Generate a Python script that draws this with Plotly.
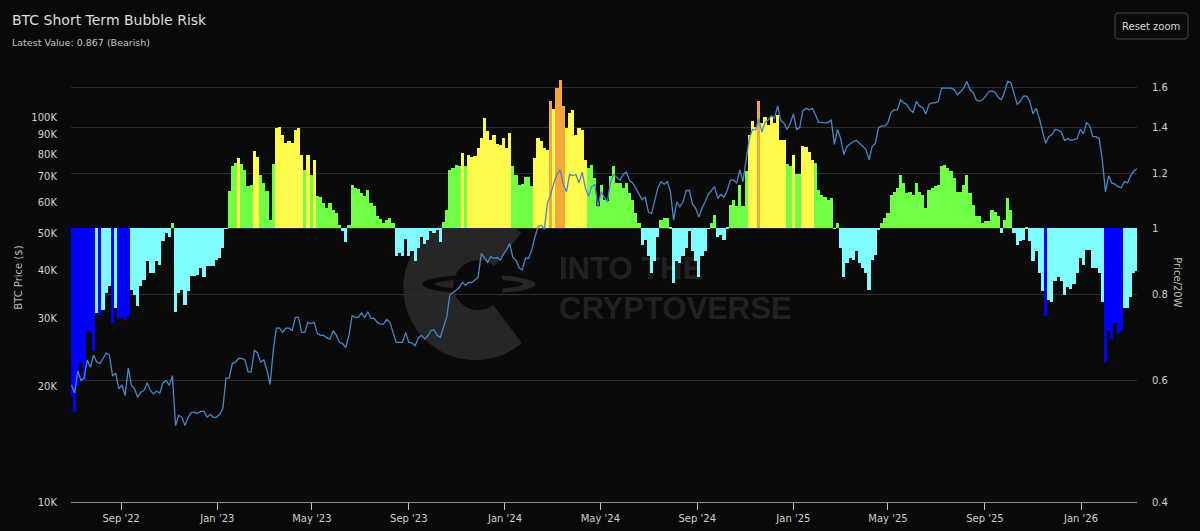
import numpy as np
import pandas as pd
import plotly.graph_objects as go

# Price / 20W ratio, one reading every 4 days from end of June 2022
risk = [
    .57, .54, .589, .636, .601, .71, .703, .662, .752, .747,
    .76, .804, .823, .727, .765, .74, .74, .735, .745, .813,
    .80, .77, .823, .84, .895, .86, .86, .895, .885, .957,
    .983, .972, 1.017, .755, .804, .813, .773, .81, .851, .851,
    .856, .875, .85, .88, .88, .88, .90, .904, .935, .998,
    1.132, 1.23, 1.245, 1.264, 1.24, 1.215, 1.15, 1.155, 1.294, 1.27,
    1.195, 1.163, 1.132, 1.027, 1.24, 1.398, 1.405, 1.365, 1.33, 1.34,
    1.33, 1.39, 1.40, 1.277, 1.215, 1.277, 1.195, 1.256, 1.113, 1.11,
    1.087, 1.07, 1.087, 1.063, 1.052, 1.011, .99, .955, 1.012, 1.155,
    1.144, 1.14, 1.125, 1.113, 1.136, 1.087, 1.076, 1.04, 1.03, 1.017,
    1.028, 1.034, 1.017, .91, .92, .91, .965, .91, .925, .895,
    .935, .97, .95, .96, .99, .985, .995, .955, 1.02, 1.063,
    1.215, 1.222, 1.237, 1.23, 1.285, 1.23, 1.277, 1.27, 1.275, 1.307,
    1.352, 1.445, 1.384, 1.343, 1.365, 1.325, 1.32, 1.352, 1.307, 1.374,
    1.23, 1.195, 1.155, 1.16, 1.185, 1.185, 1.15, 1.264, 1.352, 1.34,
    1.307, 1.30, 1.53, 1.49, 1.598, 1.64, 1.505, 1.398, 1.47, 1.485,
    1.365, 1.398, 1.39, 1.256, 1.222, 1.237, 1.183, 1.076, 1.155, 1.10,
    1.095, 1.19, 1.23, 1.165, 1.165, 1.143, 1.165, 1.125, 1.10, 1.052,
    1.017, .945, .96, .91, .86, .895, .97, 1.028, 1.034, 1.034,
    1.005, .832, .895, .89, .91, .935, .99, .925, .895, .85,
    .91, .925, .999, 1.017, 1.045, .97, .977, .96, 1.002, 1.08,
    1.10, 1.076, 1.155, 1.076, 1.212, 1.365, 1.43, 1.405, 1.53, 1.42,
    1.45, 1.41, 1.45, 1.42, 1.46, 1.343, 1.343, 1.24, 1.23, 1.277,
    1.2, 1.2, 1.315, 1.31, 1.29, 1.256, 1.245, 1.137, 1.118, 1.11,
    1.10, 1.105, .998, 1.017, .935, .85, .89, .905, .90, .925,
    .89, .875, .86, .813, .90, .915, .993, 1.017, 1.034, 1.052,
    1.118, 1.13, 1.143, 1.195, 1.165, 1.125, 1.13, 1.118, 1.165, 1.13,
    1.118, 1.07, 1.137, 1.143, 1.15, 1.155, 1.23, 1.237, 1.222, 1.21,
    1.183, 1.13, 1.13, 1.155, 1.195, 1.125, 1.08, 1.04, 1.04, 1.017,
    1.023, 1.023, 1.063, 1.056, 1.04, .983, 1.028, 1.107, 1.063, .985,
    .945, .957, .96, 1.005, .957, .895, .925, .86, .81, .745,
    .786, .78, .837, .85, .837, .80, .82, .817, .83, .86,
    .905, .885, .93, .93, .875, .875, .86, .78, .64, .71,
    .69, .727, .705, .71, .765, .765, .795, .86, .867,
]

# BTC price in thousands of dollars, same dates
price_k = [
    20.1, 19.2, 21.9, 20.7, 21.0, 23.4, 22.4, 24.1, 23.1, 22.9,
    23.6, 24.4, 24.1, 21.3, 21.6, 19.7, 20.1, 18.9, 22.3, 20.1,
    19.7, 18.7, 19.3, 19.5, 20.4, 19.5, 19.1, 19.4, 19.2, 20.4,
    20.7, 20.1, 21.3, 15.8, 16.8, 16.6, 15.8, 16.6, 17.1, 17.1,
    17.0, 17.2, 17.2, 16.6, 16.9, 16.6, 16.6, 16.9, 17.5, 21.0,
    21.0, 22.9, 23.1, 23.6, 23.6, 23.4, 21.8, 21.8, 24.8, 24.4,
    23.1, 23.4, 22.0, 20.2, 24.8, 28.3, 28.3, 27.6, 28.3, 28.3,
    27.9, 30.2, 30.2, 27.6, 27.6, 29.3, 29.1, 29.3, 27.4, 27.1,
    27.1, 26.7, 26.5, 27.9, 27.1, 26.0, 25.8, 25.2, 27.1, 30.5,
    30.2, 30.2, 31.0, 30.2, 31.2, 30.0, 30.0, 29.3, 29.0, 29.0,
    29.8, 29.3, 27.6, 26.0, 26.0, 26.0, 27.6, 26.0, 25.9, 25.5,
    26.7, 27.1, 26.5, 27.0, 27.9, 28.0, 27.1, 26.8, 28.5, 30.2,
    34.5, 35.1, 35.5, 36.1, 37.2, 36.6, 37.2, 37.2, 37.7, 38.4,
    44.3, 43.2, 42.0, 43.4, 43.0, 43.2, 42.5, 44.0, 45.2, 47.0,
    43.2, 42.5, 40.6, 40.1, 43.0, 43.0, 45.2, 48.8, 52.0, 52.4,
    51.2, 60.0, 63.0, 67.5, 71.0, 73.0, 67.0, 64.0, 71.0, 70.5,
    71.0, 67.5, 72.0, 65.5, 62.3, 66.0, 67.0, 58.5, 64.0, 62.0,
    60.3, 68.0, 71.0, 69.8, 68.6, 71.0, 72.0, 68.6, 67.5, 65.5,
    63.0, 61.0, 62.0, 56.7, 56.2, 60.3, 65.5, 68.0, 67.0, 68.0,
    64.0, 54.0, 60.3, 58.5, 60.3, 64.5, 64.5, 59.5, 58.0, 55.0,
    58.0, 60.3, 63.0, 64.5, 66.0, 61.5, 63.0, 62.0, 64.5, 68.6,
    68.6, 67.5, 73.0, 68.0, 76.5, 88.0, 93.0, 92.6, 99.0, 91.5,
    97.0, 98.3, 101.0, 99.5, 107.0, 98.0, 96.5, 93.0, 96.5, 102.0,
    93.0, 94.0, 104.0, 105.5, 104.5, 105.5, 101.5, 97.0, 97.0, 96.5,
    97.0, 98.3, 85.0, 93.0, 88.0, 80.0, 84.0, 85.5, 86.5, 87.0,
    85.5, 84.0, 82.5, 77.5, 84.0, 85.5, 94.0, 95.0, 95.0, 97.0,
    103, 104.5, 104.5, 111, 109, 108, 104.5, 103, 110, 107,
    106, 102, 108, 109, 109, 110, 119, 119, 119, 119,
    118, 114.5, 116.5, 119, 124, 118, 116, 111, 110, 111,
    113.5, 116.5, 117, 116, 112.5, 111, 116.5, 124, 123, 114.5,
    108, 110, 113.5, 113.5, 110, 102, 105.5, 99.5, 92.6, 85.5,
    89, 90, 93, 92.6, 91.5, 87, 88, 87, 87.5, 88,
    93, 90.5, 97, 95, 89, 89, 88, 77.5, 64, 70.5,
    67.5, 67, 66, 65.5, 68, 67.5, 70.5, 72.5, 73.5,
]

dates = pd.date_range("2022-06-30", periods=len(risk), freq="4D")

month_ticks = ["2022-09-01", "2023-01-01", "2023-05-01", "2023-09-01", "2024-01-01", "2024-05-01",
               "2024-09-01", "2025-01-01", "2025-05-01", "2025-09-01", "2026-01-01"]
month_labels = ["Sep '22", "Jan '23", "May '23", "Sep '23", "Jan '24", "May '24",
                "Sep '24", "Jan '25", "May '25", "Sep '25", "Jan '26"]
price_ticks = [10000, 20000, 30000, 40000, 50000, 60000, 70000, 80000, 90000, 100000]
price_labels = ["10K", "20K", "30K", "40K", "50K", "60K", "70K", "80K", "90K", "100K"]
ratio_ticks = [0.4, 0.6, 0.8, 1, 1.2, 1.4, 1.6]
ratio_labels = ["0.4", "0.6", "0.8", "1", "1.2", "1.4", "1.6"]

BG = "#0a0a0a"
GREY = "#262626"
TXT = "#cfcfcf"
FONT = "DejaVu Sans"
WIDTH, HEIGHT = 1200, 531
LEFT, RIGHT, TOP, BOTTOM = 70.5, 1137, 70, 501.7


# the colour follows the band the ratio falls into
def zone_color(v):
    if v < 0.75:
        return "#0000ff"
    if v < 1:
        return "#7ffcff"
    if v < 1.25:
        return "#70ff46"
    if v < 1.5:
        return "#fffb4d"
    return "#f4a83c"


# pixel position on the page -> paper coordinates, for the logo and the button
def px(x):
    return (x - LEFT) / (RIGHT - LEFT)


def py(y):
    return (BOTTOM - y) / (BOTTOM - TOP)


def poly(xs, ys):
    return "M" + " L".join(f"{px(a):.5f},{py(b):.5f}" for a, b in zip(xs, ys)) + " Z"


def circle(cx, cy, rx, ry, color):
    return dict(type="circle", xref="paper", yref="paper", layer="below", line_width=0, fillcolor=color,
                x0=px(cx - rx), x1=px(cx + rx), y0=py(cy + ry), y1=py(cy - ry))


def crescent(a0, a1, color):
    # band between the two ellipses of the logo ring
    t = np.radians(np.linspace(a0, a1, 40))
    xs = np.r_[478.5 + 56.5 * np.cos(t), 478.5 + 44 * np.cos(t[::-1])]
    ys = np.r_[284 + 9.5 * np.sin(t), 284 + 5 * np.sin(t[::-1])]
    return dict(type="path", xref="paper", yref="paper", layer="below", line_width=0, fillcolor=color, path=poly(xs, ys))


shapes = [
    circle(475, 288, 72, 72, GREY),
    dict(type="path", xref="paper", yref="paper", layer="below", line_width=0, fillcolor=BG,
         path=poly([478, 530, 560, 560, 530], [285, 222, 222, 360, 354])),
    crescent(100, 260, BG),
    crescent(-80, 80, GREY),
    circle(478, 285, 25, 25, BG),
]

# Reset zoom button
bx0, bx1, by0, by1, r = 1115, 1188, 13, 39, 4
shapes.append(dict(
    type="path", xref="paper", yref="paper", fillcolor=BG, line=dict(color="#4a4a4a", width=1),
    path=(f"M{px(bx0 + r)},{py(by0)} L{px(bx1 - r)},{py(by0)} Q{px(bx1)},{py(by0)} {px(bx1)},{py(by0 + r)} "
          f"L{px(bx1)},{py(by1 - r)} Q{px(bx1)},{py(by1)} {px(bx1 - r)},{py(by1)} "
          f"L{px(bx0 + r)},{py(by1)} Q{px(bx0)},{py(by1)} {px(bx0)},{py(by1 - r)} "
          f"L{px(bx0)},{py(by0 + r)} Q{px(bx0)},{py(by0)} {px(bx0 + r)},{py(by0)} Z")))


def note(text, x, y, size, color=TXT, anchor="left", angle=0, family=FONT):
    return dict(text=text, xref="paper", yref="paper", x=px(x), y=py(y), showarrow=False, xanchor=anchor,
                yanchor="middle", textangle=angle, font=dict(family=family, size=size, color=color))


annotations = [
    note("BTC Short Term Bubble Risk", 9, 20, 14, "#dedede"),
    note("Latest Value: 0.867 (Bearish)", 9, 43, 9.5, "#c4c4c4"),
    note("Reset zoom", 1151.5, 26.5, 10, "#d8d8d8", anchor="center"),
    note("BTC Price ($)", 18, 278, 10, "#bdbdbd", anchor="center", angle=-90),
    note("Price/20W", 1178, 282, 10, "#bdbdbd", anchor="center", angle=90),
    note("<b>INTO THE</b>", 557, 268.5, 31, "rgba(255,255,255,0.11)", family="Liberation Sans"),
    note("<b>CRYPTOVERSE</b>", 557, 308, 31, "rgba(255,255,255,0.11)", family="Liberation Sans"),
]

fig = go.Figure()
# bars grow from the 1.0 line, the axis is log so height is ratio minus base
fig.add_trace(go.Bar(x=dates, y=np.array(risk) - 1, base=1, yaxis="y", width=4 * 86400000,
                     marker=dict(color=[zone_color(v) for v in risk], line_width=0), hoverinfo="skip"))
fig.add_trace(go.Scatter(x=dates, y=np.array(price_k) * 1000, yaxis="y2", mode="lines",
                         line=dict(color="#4a86c8", width=1.3), hoverinfo="skip"))

fig.update_layout(
    width=WIDTH, height=HEIGHT,
    margin=dict(l=LEFT, r=WIDTH - RIGHT, t=TOP, b=HEIGHT - BOTTOM, autoexpand=False),
    paper_bgcolor=BG, plot_bgcolor=BG, showlegend=False, bargap=0,
    font=dict(family=FONT, size=10, color=TXT),
    shapes=shapes, annotations=annotations,
    xaxis=dict(type="date", range=["2022-06-29 08:00", "2026-03-13"], tickmode="array", tickvals=month_ticks,
               ticktext=month_labels, showgrid=False, zeroline=False, showline=True, linecolor="#8c8c8c",
               linewidth=1.3, ticks="outside", ticklen=7, tickcolor="#c0c0c0", tickwidth=1, tickangle=0,
               tickfont=dict(size=10, color=TXT)),
    yaxis=dict(type="log", side="right", range=[np.log10(0.4), 0.22986], tickmode="array", tickvals=ratio_ticks,
               ticktext=ratio_labels, showgrid=True, gridcolor="#2e2e2e", gridwidth=1, zeroline=False,
               showline=False, ticks="", ticklabelstandoff=14, tickfont=dict(size=10, color=TXT)),
    yaxis2=dict(type="log", side="left", overlaying="y", range=[4, 5.1228], tickmode="array", tickvals=price_ticks,
                ticktext=price_labels, showgrid=False, zeroline=False, showline=False, ticks="",
                ticklabelstandoff=13, tickfont=dict(size=10, color=TXT)),
)

fig.write_html("out.html", config={"displayModeBar": False}, post_script="document.body.style.margin='0';")
